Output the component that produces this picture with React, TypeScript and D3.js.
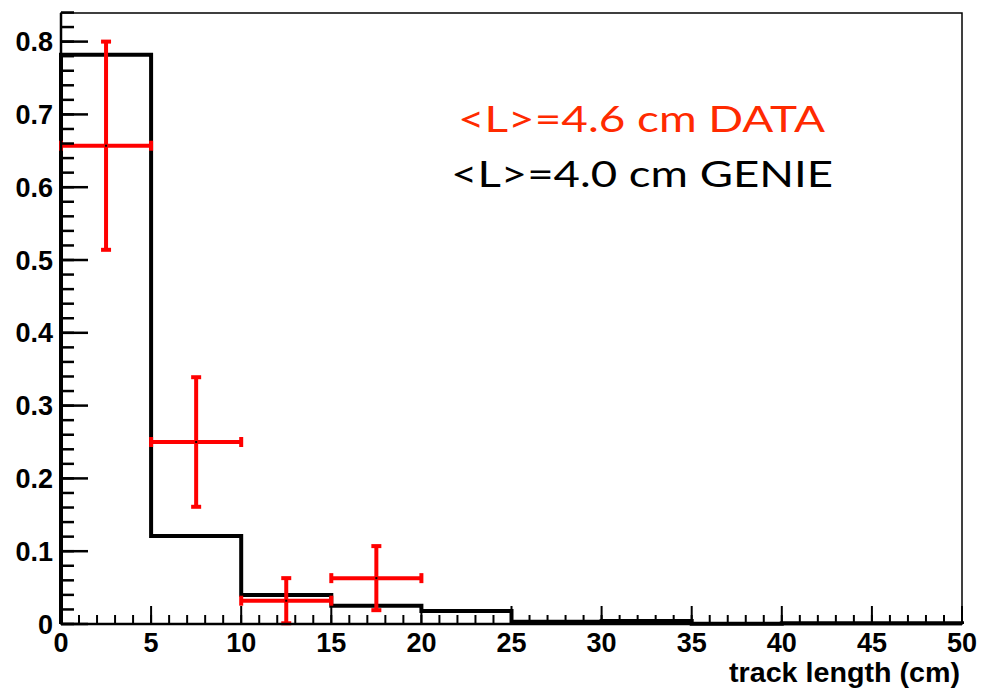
import React from "react";
import * as d3 from "d3";

const binEdges = [0, 5, 10, 15, 20, 25, 30, 35, 40, 45, 50];
const genieValues = [0.782, 0.121, 0.04, 0.025, 0.018, 0.003, 0.004, 0.0005, 0.001, 0.001];
const dataCenters = [2.5, 7.5, 12.5, 17.5];
const dataValues = [0.657, 0.25, 0.032, 0.063];
const dataErrors = [0.143, 0.089, 0.031, 0.044];
const xTicks = [0, 5, 10, 15, 20, 25, 30, 35, 40, 45, 50];
const yTicks = [0, 0.1, 0.2, 0.3, 0.4, 0.5, 0.6, 0.7, 0.8];
const yTickLabels = ["0", "0.1", "0.2", "0.3", "0.4", "0.5", "0.6", "0.7", "0.8"];
const legendLines = ["<L>=4.6 cm DATA", "<L>=4.0 cm GENIE"];
const xTitle = "track length (cm)";

const W = 984, H = 689;
const L = 61, R = 962, T = 13, B = 624;

export default function App() {
  const x = d3.scaleLinear().domain([0, 50]).range([L, R]);
  const y = d3.scaleLinear().domain([0, 0.8393]).range([B, T]);

  const pts: [number, number][] = [[0, 0]];
  genieValues.forEach((v, i) => {
    pts.push([binEdges[i], v]);
    pts.push([binEdges[i + 1], v]);
  });
  pts.push([50, 0]);
  const line = d3.line<[number, number]>().x(d => x(d[0])).y(d => y(d[1]));

  const minorY = d3.range(0, 0.841, 0.02);
  const minorX = d3.range(0, 50.01, 1);
  const font = "'Liberation Sans', Arial, Helvetica, sans-serif";

  return (
    <svg width={W} height={H} style={{ position: "absolute", left: 0, top: 0, background: "#fff" }}>
      <rect x={0} y={0} width={W} height={H} fill="#fff" />
      {/* frame */}
      <rect x={L} y={T} width={R - L} height={B - T} fill="none" stroke="#000" strokeWidth={1.5} />
      {/* histogram */}
      <path d={line(pts) || ""} fill="none" stroke="#000" strokeWidth={4} strokeLinejoin="miter" />
      {/* data points */}
      {dataCenters.map((c, i) => {
        const cx = x(c), cy = y(dataValues[i]);
        const x0 = x(c - 2.5), x1 = x(c + 2.5);
        const yt = y(dataValues[i] + dataErrors[i]);
        const yb = y(Math.max(0, dataValues[i] - dataErrors[i]));
        return (
          <g key={i} stroke="#ff0000" strokeWidth={4}>
            <line x1={x0} x2={x1} y1={cy} y2={cy} />
            <line x1={cx} x2={cx} y1={yt} y2={yb} />
            <line x1={cx - 5} x2={cx + 5} y1={yt} y2={yt} />
            <line x1={cx - 5} x2={cx + 5} y1={yb} y2={yb} />
            <line x1={x0} x2={x0} y1={cy - 5} y2={cy + 5} />
            <line x1={x1} x2={x1} y1={cy - 5} y2={cy + 5} />
            <rect x={cx - 1} y={cy - 1} width={2} height={2} fill="#000" stroke="none" />
          </g>
        );
      })}
      {/* axes */}
      <line x1={L} x2={L} y1={T} y2={B} stroke="#000" strokeWidth={2.5} />
      <line x1={L} x2={R} y1={B} y2={B} stroke="#000" strokeWidth={2.5} />
      {minorY.map((v, i) => (
        <line key={"my" + i} x1={L} x2={L + 13} y1={y(v)} y2={y(v)} stroke="#000" strokeWidth={2.5} />
      ))}
      {yTicks.map((v, i) => (
        <line key={"My" + i} x1={L} x2={L + 27} y1={y(v)} y2={y(v)} stroke="#000" strokeWidth={2.5} />
      ))}
      {minorX.map((v, i) => (
        <line key={"mx" + i} x1={x(v)} x2={x(v)} y1={B} y2={B - 9} stroke="#000" strokeWidth={2} />
      ))}
      {xTicks.map((v, i) => (
        <line key={"Mx" + i} x1={x(v)} x2={x(v)} y1={B} y2={B - 18} stroke="#000" strokeWidth={2} />
      ))}
      {yTicks.map((v, i) => (
        <text key={"yl" + i} x={53} y={y(v) + 9.5} textAnchor="end" fontFamily={font} fontWeight="bold" fontSize={27} fill="#000">
          {yTickLabels[i]}
        </text>
      ))}
      {xTicks.map((v, i) => (
        <text key={"xl" + i} x={x(v)} y={652} textAnchor="middle" fontFamily={font} fontWeight="bold" fontSize={27} fill="#000">
          {String(v)}
        </text>
      ))}
      <text x={729} y={682} textLength={231} lengthAdjust="spacingAndGlyphs" fontFamily={font} fontWeight="bold" fontSize={27} fill="#000">
        {xTitle}
      </text>
      {/* legend */}
      <text x={458} y={132} textLength={367} lengthAdjust="spacingAndGlyphs" fontFamily="Lato, 'Open Sans', sans-serif" fontSize={36} fill="#ff2a00">
        {legendLines[0]}
      </text>
      <text x={451} y={187} textLength={382} lengthAdjust="spacingAndGlyphs" fontFamily="Lato, 'Open Sans', sans-serif" fontSize={36} fill="#000">
        {legendLines[1]}
      </text>
    </svg>
  );
}
